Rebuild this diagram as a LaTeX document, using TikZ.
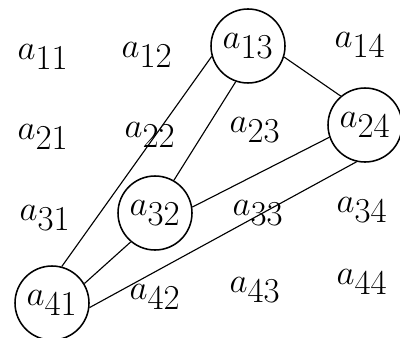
\documentclass[tikz,border=0pt]{standalone}
\usepackage{amsfonts,amsmath,amssymb}
\usepackage{tikz}

\tikzset{
  entry/.style={font=\fontsize{35}{40}\selectfont, inner sep=1pt},
  picked/.style={draw, circle, line width=1.1pt, minimum size=1.85cm, inner sep=0pt},
  edge/.style={line width=0.8pt}
}

\begin{document}
\begin{tikzpicture}
\useasboundingbox (0,0) rectangle (10,8.425);

\foreach \n/\x/\y in {11/1.075/7.0, 12/3.675/7.05, 13/6.2/7.275, 14/9.0/7.3,
                      21/1.075/5.0, 22/3.75/5.05, 23/6.375/5.175, 24/9.125/5.3,
                      31/1.125/2.975, 32/3.875/3.1, 33/6.45/3.1, 34/9.05/3.175,
                      41/1.3/0.85, 42/3.875/1.0, 43/6.375/1.175, 44/9.05/1.375}
\node[entry] (a\n) at (\x,\y) {$a_{\n}$};

\foreach \p in {13,24,32,41}
\node[picked] (c\p) at (a\p) {};

\draw[edge] (c41.75)--(c13.196);
\draw[edge] (c41.31)--(c32.230);
\draw[edge] (c41.-7)--(c24.257);
\draw[edge] (c32.60)--(c13.251);
\draw[edge] (c32.9)--(c24.199);
\draw[edge] (c13.-17)--(c24.130);

\end{tikzpicture}
\end{document}
